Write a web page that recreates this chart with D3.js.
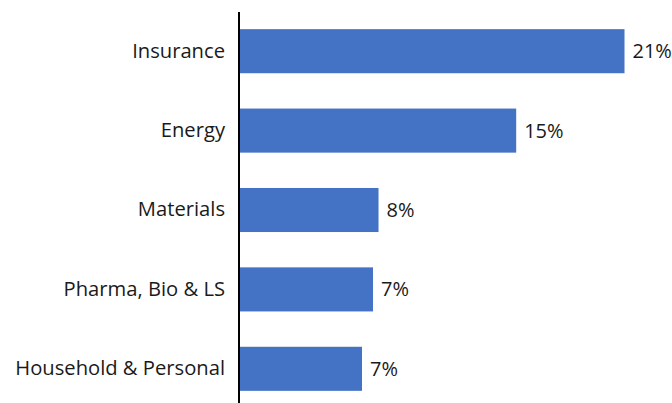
<!DOCTYPE html>
<html><head><meta charset="utf-8">
<script src="https://cdn.jsdelivr.net/npm/d3@7"></script>
<style>html,body{margin:0;padding:0;background:#fff;}svg{display:block;}</style>
</head><body><svg id="c" width="672" height="403"></svg>
<script>
const categories = ["Insurance", "Energy", "Materials", "Pharma, Bio & LS", "Household & Personal"];
const values = [21.0, 15.1, 7.6, 7.3, 6.7];
const valueLabels = ["21%", "15%", "8%", "7%", "7%"];

const svg = d3.select("#c");
const x0 = 239;
const x = d3.scaleLinear().domain([0, 21]).range([x0, 624.5]);
const y = d3.scaleBand().domain(categories).range([11.5, 408.5]).paddingInner(0.445).paddingOuter(0.2225);
const font = "'Open Sans', 'Noto Sans', sans-serif";

svg.selectAll("rect.bar").data(categories).enter().append("rect")
  .attr("x", x(0)).attr("y", d => y(d))
  .attr("width", (d, i) => x(values[i]) - x(0))
  .attr("height", y.bandwidth())
  .attr("fill", "#4472C4");

const yAxis = svg.append("g").attr("transform", `translate(${x0},0)`)
  .call(d3.axisLeft(y).tickSize(0).tickPadding(14));
yAxis.select(".domain").attr("stroke", "#000").attr("stroke-width", 2).attr("d", "M0,12V403");
yAxis.selectAll("text").attr("font-family", font).attr("font-size", 20.2).attr("fill", "#1a1a1a");

svg.selectAll("text.val").data(categories).enter().append("text")
  .attr("class", "val")
  .attr("x", (d, i) => x(values[i]) + 8)
  .attr("y", d => y(d) + y.bandwidth() / 2)
  .attr("dy", "0.35em")
  .attr("font-family", font).attr("font-size", 20).attr("fill", "#1a1a1a")
  .text((d, i) => valueLabels[i]);
</script></body></html>
